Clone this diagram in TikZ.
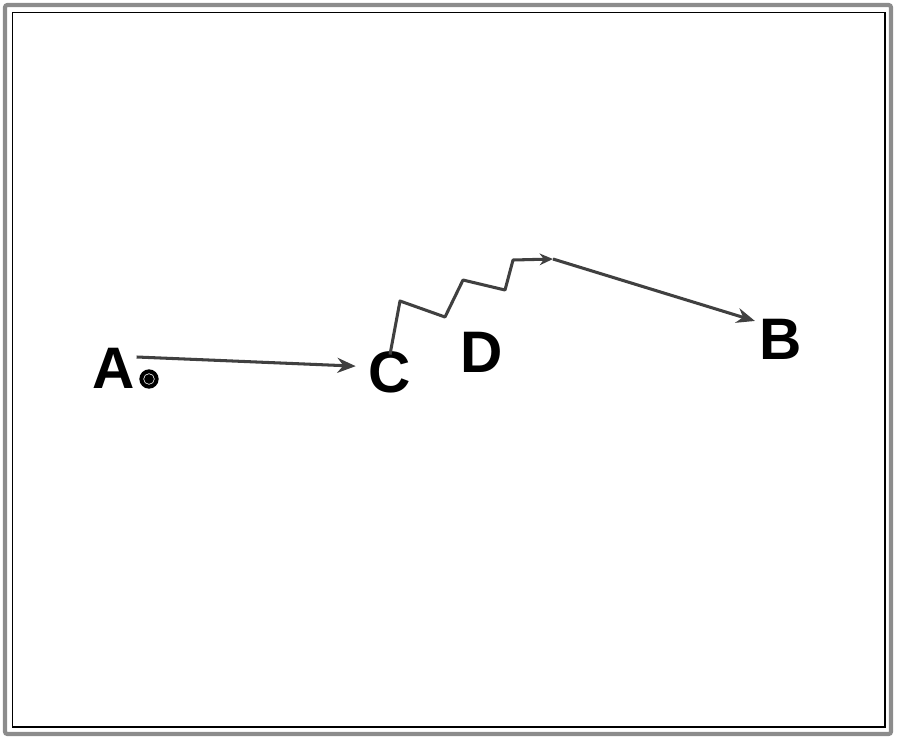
\documentclass[tikz,border=0pt]{standalone}
\usepackage{fontspec}
\setmainfont{Liberation Sans}
\usetikzlibrary{positioning,arrows.meta}

\begin{document}
\begin{tikzpicture}
[x=0.03cm,y=-0.03cm,>={Stealth[length=5.5mm,width=4.5mm]},
 every letter/.style={inner sep=0pt,font=\fontsize{50}{50}\selectfont\bfseries},
 move/.style={->,line width=2.6pt,draw=black!75,line join=round},
 outer frame/.style={draw=black!45,line width=3.5pt,rounded corners=2pt},
 inner frame/.style={draw=black,line width=1pt}]

\useasboundingbox (0,0) rectangle (900,744);
\draw [outer frame] (5,5) rectangle (891,734);
\draw [inner frame] (12.5,12.5) rectangle (885,727);

\node [every letter] (a) at (114,368) {A};
\node [circle,fill=black,minimum size=0.58cm,inner sep=0pt] (o) at (149,379) {};
\node [circle,draw=white,line width=0.5pt,minimum size=0.32cm,inner sep=0pt] at (o) {};
\node [every letter] (c) at (390,372) {C};
\node [every letter] (d) at (482,352) {D};
\node [every letter] (b) at (781,339) {B};
\coordinate (top) at (553,259);

\draw [move] ([xshift=1pt,yshift=-8pt]a.north east) -- ([xshift=-11pt,yshift=5pt]c.west);
\draw [move,>={Stealth[length=4mm,width=3.5mm]}]
  ([yshift=-3pt]c.north) -- (400,301) -- (445,317) -- (463,280)
  -- (505,290) -- (513,260) -- (top);
\draw [move] (top) -- ([xshift=-4pt,yshift=-2pt]b.north west);
\end{tikzpicture}
\end{document}
